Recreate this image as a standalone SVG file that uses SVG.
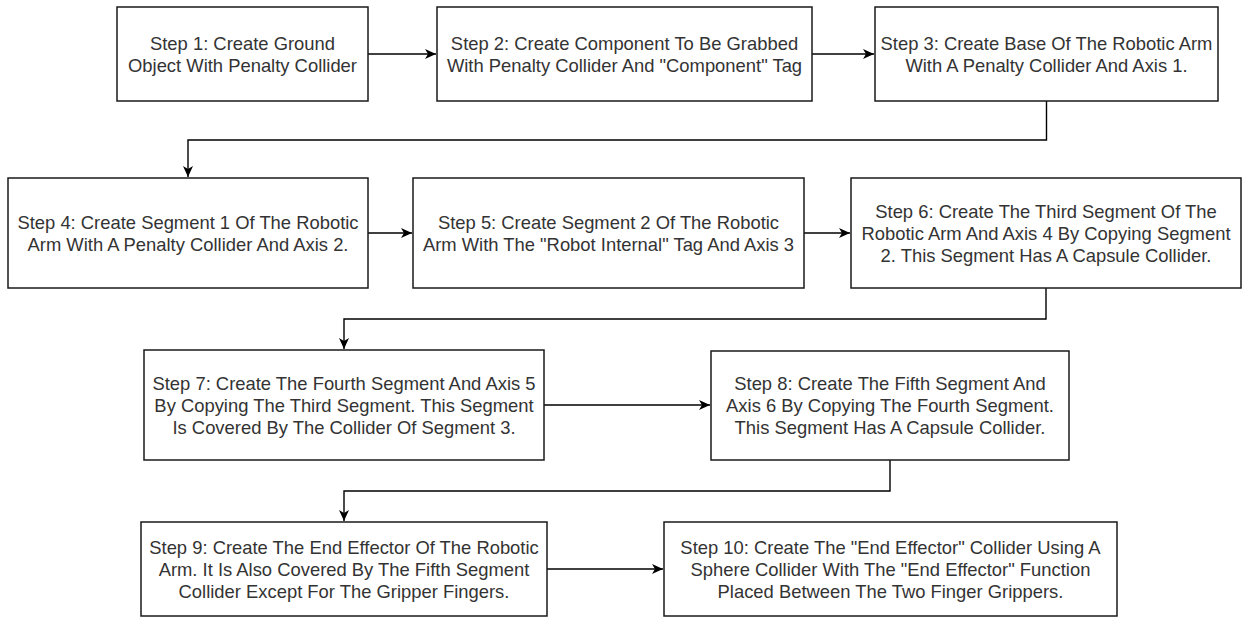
<svg xmlns="http://www.w3.org/2000/svg" width="1252" height="617" viewBox="0 0 1252 617">
<style>
.box{fill:#ffffff;stroke:#1a1a1a;stroke-width:1.5}
.lbl{font-family:"Liberation Sans",Arial,sans-serif;font-size:18.4px;fill:#333333;text-anchor:middle}
.edge{fill:none;stroke:#000000;stroke-width:1.4;marker-end:url(#arr)}
</style>
<defs>
<marker id="arr" markerUnits="userSpaceOnUse" markerWidth="12" markerHeight="10" refX="11" refY="5" orient="auto">
<path d="M0,0 L11,5 L0,10 L3,5 Z" fill="#000000"/>
</marker>
</defs>
<rect width="1252" height="617" fill="#ffffff"/>
<g id="connectors">
<path class="edge" d="M368,54 H436"/>
<path class="edge" d="M812,54 H874"/>
<path class="edge" d="M1046.5,101 V140 H188 V177"/>
<path class="edge" d="M368,233 H412"/>
<path class="edge" d="M804,233 H850"/>
<path class="edge" d="M1046,288 V319 H344 V349"/>
<path class="edge" d="M544,405 H710"/>
<path class="edge" d="M890,460 V491 H344 V521"/>
<path class="edge" d="M547,569 H663"/>
</g>
<g id="step1">
<rect class="box" x="117" y="7" width="251" height="94"/>
<text class="lbl" x="242.5" y="49.5"><tspan x="242.5">Step 1: Create Ground</tspan><tspan x="242.5" dy="22">Object With Penalty Collider</tspan></text>
</g>
<g id="step2">
<rect class="box" x="437" y="7" width="375" height="94"/>
<text class="lbl" x="624.5" y="49.5"><tspan x="624.5">Step 2: Create Component To Be Grabbed</tspan><tspan x="624.5" dy="22">With Penalty Collider And "Component" Tag</tspan></text>
</g>
<g id="step3">
<rect class="box" x="875" y="7" width="343" height="94"/>
<text class="lbl" x="1046.5" y="49.5"><tspan x="1046.5">Step 3: Create Base Of The Robotic Arm</tspan><tspan x="1046.5" dy="22">With A Penalty Collider And Axis 1.</tspan></text>
</g>
<g id="step4">
<rect class="box" x="8" y="178" width="360" height="110"/>
<text class="lbl" x="188" y="228.5"><tspan x="188">Step 4: Create Segment 1 Of The Robotic</tspan><tspan x="188" dy="22">Arm With A Penalty Collider And Axis 2.</tspan></text>
</g>
<g id="step5">
<rect class="box" x="413" y="178" width="391" height="110"/>
<text class="lbl" x="608.5" y="228.5"><tspan x="608.5">Step 5: Create Segment 2 Of The Robotic</tspan><tspan x="608.5" dy="22">Arm With The "Robot Internal" Tag And Axis 3</tspan></text>
</g>
<g id="step6">
<rect class="box" x="851" y="178" width="390" height="110"/>
<text class="lbl" x="1046" y="217.5"><tspan x="1046">Step 6: Create The Third Segment Of The</tspan><tspan x="1046" dy="22">Robotic Arm And Axis 4 By Copying Segment</tspan><tspan x="1046" dy="22">2. This Segment Has A Capsule Collider.</tspan></text>
</g>
<g id="step7">
<rect class="box" x="144" y="350" width="400" height="110"/>
<text class="lbl" x="344" y="389.5"><tspan x="344">Step 7: Create The Fourth Segment And Axis 5</tspan><tspan x="344" dy="22">By Copying The Third Segment. This Segment</tspan><tspan x="344" dy="22">Is Covered By The Collider Of Segment 3.</tspan></text>
</g>
<g id="step8">
<rect class="box" x="711" y="351" width="358" height="109"/>
<text class="lbl" x="890" y="389.5"><tspan x="890">Step 8: Create The Fifth Segment And</tspan><tspan x="890" dy="22">Axis 6 By Copying The Fourth Segment.</tspan><tspan x="890" dy="22">This Segment Has A Capsule Collider.</tspan></text>
</g>
<g id="step9">
<rect class="box" x="141" y="522" width="406" height="94"/>
<text class="lbl" x="344" y="553.5"><tspan x="344">Step 9: Create The End Effector Of The Robotic</tspan><tspan x="344" dy="22">Arm. It Is Also Covered By The Fifth Segment</tspan><tspan x="344" dy="22">Collider Except For The Gripper Fingers.</tspan></text>
</g>
<g id="step10">
<rect class="box" x="664" y="522" width="453" height="94"/>
<text class="lbl" x="890.5" y="553.5"><tspan x="890.5">Step 10: Create The "End Effector" Collider Using A</tspan><tspan x="890.5" dy="22">Sphere Collider With The "End Effector" Function</tspan><tspan x="890.5" dy="22">Placed Between The Two Finger Grippers.</tspan></text>
</g>
</svg>
